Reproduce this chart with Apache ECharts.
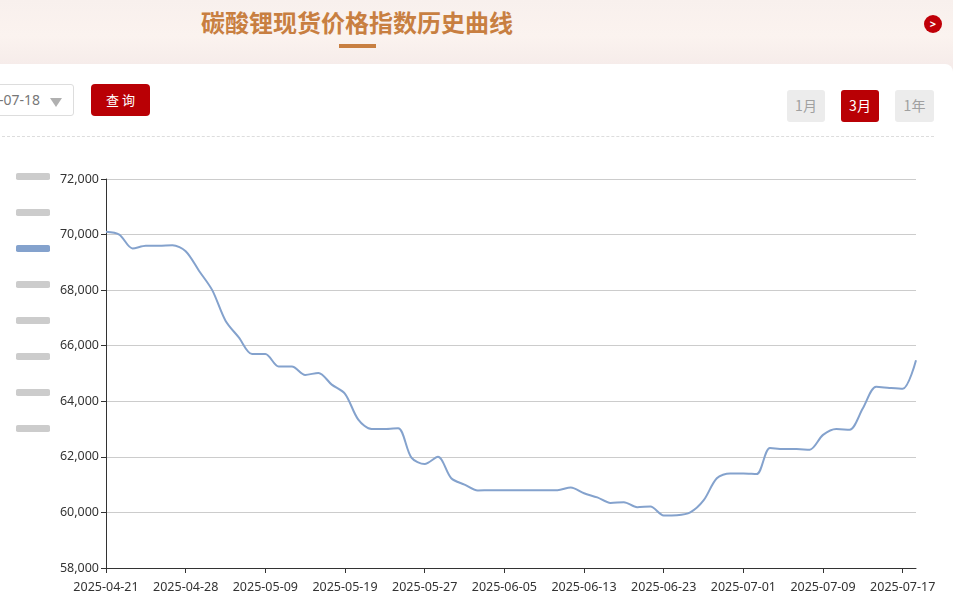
<!DOCTYPE html>
<html>
<head>
<meta charset="utf-8">
<title>碳酸锂现货价格指数历史曲线</title>
<script src="https://cdn.jsdelivr.net/npm/echarts@6/dist/echarts.min.js"></script>
<style>
	html,body{margin:0;padding:0;width:953px;height:599px;overflow:hidden;background:#fff;font-family:"Noto Sans CJK SC","Noto Sans",sans-serif;}
	.head{position:absolute;left:0;top:0;width:953px;height:72px;background:linear-gradient(180deg,#f8f0ed 0%,#fbf3ef 50%,#f6ecea 90%);}
	.title{position:absolute;left:157px;top:4px;width:400px;text-align:center;font-size:24px;line-height:36px;font-weight:bold;color:#c87f41;}
	.title-line{position:absolute;left:339px;top:44px;width:37px;height:4px;background:#c87f41;}
	.next{position:absolute;left:924px;top:15px;width:18px;height:18px;border-radius:50%;background:#c00008;color:#fff;font:bold 11px/17px "Noto Sans";text-align:center;}
	.panel{position:absolute;left:-10px;top:64px;width:963px;height:535px;background:#fff;border-radius:8px 8px 0 0;}
	.date{position:absolute;left:-60px;top:84px;width:132px;height:30px;border:1px solid #ddd;border-radius:3px;background:#fff;font:14px/30px "Noto Sans";color:#777;text-indent:26px;}
	.date i{position:absolute;left:109px;top:13px;width:0;height:0;border-left:6px solid transparent;border-right:6px solid transparent;border-top:9px solid #b0b0b0;}
	.query{position:absolute;left:91px;top:84px;width:59px;height:32px;border-radius:4px;background:#b90005;color:#fff;font-size:13px;line-height:31px;text-align:center;}
	.range{position:absolute;top:90px;height:32px;border-radius:3px;background:#ececec;color:#a0a0a0;font-size:14px;line-height:30px;text-align:center;}
	.range.on{background:#b90005;color:#fff;}
	.dash{position:absolute;left:2px;top:136px;width:932px;border-top:1px dashed #ddd;}
	#chart{position:absolute;left:0;top:0;width:953px;height:599px;}
</style>
</head>
<body>
<div class="head"></div>
<div class="title">碳酸锂现货价格指数历史曲线</div>
<div class="title-line"></div>
<div class="next">&gt;</div>
<div class="panel"></div>
<div class="date">2025-07-18<i></i></div>
<div class="query">查 询</div>
<div class="range" style="left:787px;width:38px;">1月</div>
<div class="range on" style="left:841px;width:38px;">3月</div>
<div class="range" style="left:895px;width:39px;">1年</div>
<div class="dash"></div>
<div id="chart"></div>
<script>
// 交易日
var dates = [
	'2025-04-21','2025-04-22','2025-04-23','2025-04-24','2025-04-25','2025-04-27',
	'2025-04-28','2025-04-29','2025-04-30','2025-05-06','2025-05-07','2025-05-08',
	'2025-05-09','2025-05-12','2025-05-13','2025-05-14','2025-05-15','2025-05-16',
	'2025-05-19','2025-05-20','2025-05-21','2025-05-22','2025-05-23','2025-05-26',
	'2025-05-27','2025-05-28','2025-05-29','2025-05-30','2025-06-03','2025-06-04',
	'2025-06-05','2025-06-06','2025-06-09','2025-06-10','2025-06-11','2025-06-12',
	'2025-06-13','2025-06-16','2025-06-17','2025-06-18','2025-06-19','2025-06-20',
	'2025-06-23','2025-06-24','2025-06-25','2025-06-26','2025-06-27','2025-06-30',
	'2025-07-01','2025-07-02','2025-07-03','2025-07-04','2025-07-07','2025-07-08',
	'2025-07-09','2025-07-10','2025-07-11','2025-07-14','2025-07-15','2025-07-16',
	'2025-07-17','2025-07-18'
];
// 价格指数
var prices = [
	70100,70000,69500,69600,69600,69620,
	69400,68700,68000,66900,66300,65700,
	65700,65250,65250,64950,65020,64600,
	64270,63340,63000,63000,63030,61970,
	61740,62000,61230,61000,60790,60800,
	60800,60800,60800,60800,60800,60900,
	60690,60540,60340,60370,60190,60210,
	59890,59900,60000,60430,61230,61400,
	61400,61380,62320,62280,62280,62260,
	62790,63000,62980,63750,64520,64480,
	64450,65480
];
// 图例，只有第三项选中，其余无数据
var legendNames = ['s1','s2','s3','s4','s5','s6','s7','s8'];
var activeName = 's3';
var yMin = 58000;
var yMax = 72000;
var yStep = 2000;

var selected = {};
var series = [];
for(var i=0;i<legendNames.length;i++){
	selected[legendNames[i]] = legendNames[i] == activeName;
	series.push({
		name: legendNames[i],
		type: 'line',
		smooth: 0.3,
		symbol: 'none',
		lineStyle: {width: 2, color: '#84a2cd'},
		itemStyle: {color: '#84a2cd'},
		data: legendNames[i] == activeName ? prices : []
	});
}

//每6个交易日一个刻度
function everySix(idx){
	return idx % 6 == 0;
}

var chart = echarts.init(document.getElementById('chart'));
chart.setOption({
	animation: false,
	legend: {
		orient: 'vertical',
		left: 11,
		top: 168,
		icon: 'roundRect',
		itemWidth: 34,
		itemHeight: 7,
		itemGap: 29,
		inactiveColor: '#ccc',
		selected: selected,
		data: legendNames,
		formatter: function(){ return ''; },
		textStyle: {fontSize: 1, padding: 0}
	},
	grid: {left: 106, top: 179, right: 37, height: 389, containLabel: false},
	xAxis: {
		type: 'category',
		boundaryGap: false,
		data: dates,
		axisLine: {lineStyle: {color: '#333'}},
		axisTick: {interval: everySix, length: 5, lineStyle: {color: '#333'}},
		axisLabel: {interval: everySix, color: '#333', fontSize: 12.5, fontFamily: 'Noto Sans', margin: 13, hideOverlap: false},
		splitLine: {show: false}
	},
	yAxis: {
		type: 'value',
		min: yMin,
		max: yMax,
		interval: yStep,
		axisLine: {show: true, lineStyle: {color: '#333'}},
		axisTick: {show: true, length: 5, lineStyle: {color: '#333'}},
		axisLabel: {color: '#333', fontSize: 12.5, fontFamily: 'Noto Sans', margin: 7},
		splitLine: {lineStyle: {color: '#ccc', width: 1}}
	},
	series: series
});
</script>
</body>
</html>
